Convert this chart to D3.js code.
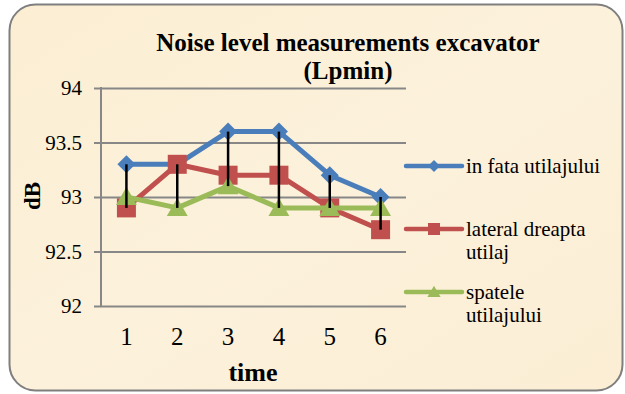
<!DOCTYPE html>
<html>
<head>
<meta charset="utf-8">
<script src="https://cdn.jsdelivr.net/npm/d3@7"></script>
<style>
  body { margin: 0; background: #fff; }
  svg text { font-family: "Liberation Serif", "Times New Roman", serif; fill: #000; }
</style>
</head>
<body>
<div id="chart"></div>
<script>
const categories = ['1', '2', '3', '4', '5', '6'];
const inFata = [93.3, 93.3, 93.6, 93.6, 93.2, 93.0];
const lateralDreapta = [92.9, 93.3, 93.2, 93.2, 92.9, 92.7];
const spatele = [93.0, 92.9, 93.1, 92.9, 92.9, 92.9];
const yTicks = [92, 92.5, 93, 93.5, 94];

const series = [
    { name: ['in fata utilajului'], values: inFata, color: '#4a7ebb', marker: 'diamond' },
    { name: ['lateral dreapta', 'utilaj'], values: lateralDreapta, color: '#c0504d', marker: 'square' },
    { name: ['spatele', 'utilajului'], values: spatele, color: '#9bbb59', marker: 'triangle' }
];

const width = 625, height = 394;
const plot = { left: 101, right: 406, top: 88, bottom: 306 };

const svg = d3.select('#chart').append('svg')
    .attr('width', width)
    .attr('height', height);

// background panel
const defs = svg.append('defs');
const grad = defs.append('linearGradient')
    .attr('id', 'bg').attr('x1', 0).attr('y1', 0).attr('x2', 1).attr('y2', 1);
grad.append('stop').attr('offset', 0).attr('stop-color', '#fbeed3');
grad.append('stop').attr('offset', 0.5).attr('stop-color', '#fcf1db');
grad.append('stop').attr('offset', 1).attr('stop-color', '#fbeed5');

svg.append('rect')
    .attr('x', 9.5).attr('y', 4.5)
    .attr('width', 613).attr('height', 386)
    .attr('rx', 26)
    .attr('fill', 'url(#bg)')
    .attr('stroke', '#7f7f7f')
    .attr('stroke-width', 2);

const x = d3.scaleBand()
    .domain(categories)
    .range([plot.left, plot.right]);
const cx = d => x(d) + x.bandwidth() / 2;

const y = d3.scaleLinear()
    .domain([92, 94])
    .range([plot.bottom, plot.top]);

// gridlines + y ticks
const yAxis = d3.axisLeft(y)
    .tickValues(yTicks)
    .tickSize(-(plot.right - plot.left))
    .tickFormat(d => d3.format('')(d));

const yg = svg.append('g')
    .attr('transform', `translate(${plot.left},0)`)
    .call(yAxis);
yg.select('.domain').remove();
yg.selectAll('.tick line')
    .attr('x1', -7)
    .attr('stroke', '#878787')
    .attr('stroke-width', 2);
yg.selectAll('.tick text')
    .attr('x', -19)
    .attr('dy', '0.32em')
    .style('font-size', '21px')
    .style('font-family', '"Liberation Serif", serif');

// vertical axis line
svg.append('line')
    .attr('x1', plot.left).attr('x2', plot.left)
    .attr('y1', plot.top - 1).attr('y2', plot.bottom + 1)
    .attr('stroke', '#878787')
    .attr('stroke-width', 2);

// x labels
svg.append('g')
    .selectAll('text')
    .data(categories)
    .join('text')
    .attr('x', d => cx(d))
    .attr('y', 345)
    .attr('text-anchor', 'middle')
    .style('font-size', '25px')
    .text(d => d);

// series
const line = d3.line()
    .x((d, i) => cx(categories[i]))
    .y(d => y(d));

function drawMarker(g, type, color, size) {
    if (type === 'diamond') {
        g.append('path')
            .attr('d', `M0,${-size}L${size},0L0,${size}L${-size},0Z`)
            .attr('fill', color);
    } else if (type === 'square') {
        g.append('rect')
            .attr('x', -size).attr('y', -size)
            .attr('width', size * 2).attr('height', size * 2)
            .attr('fill', color);
    } else {
        g.append('path')
            .attr('d', `M0,${-size * 1.05}L${size * 1.1},${size * 0.85}L${-size * 1.1},${size * 0.85}Z`)
            .attr('fill', color);
    }
}

series.forEach(s => {
    svg.append('path')
        .datum(s.values)
        .attr('fill', 'none')
        .attr('stroke', s.color)
        .attr('stroke-width', 5)
        .attr('stroke-linejoin', 'round')
        .attr('d', line);

    s.values.forEach((v, i) => {
        const g = svg.append('g')
            .attr('transform', `translate(${cx(categories[i])},${y(v)})`);
        const size = s.marker === 'diamond' ? 9 : 9.5;
        drawMarker(g, s.marker, s.color, size);
    });
});

// high-low lines
svg.append('g')
    .selectAll('line')
    .data(categories)
    .join('line')
    .attr('x1', d => cx(d)).attr('x2', d => cx(d))
    .attr('y1', (d, i) => y(d3.max(series, s => s.values[i])))
    .attr('y2', (d, i) => y(d3.min(series, s => s.values[i])))
    .attr('stroke', '#000')
    .attr('stroke-width', 2.5);

// legend
const legendY = [166, 229, 292];
series.forEach((s, i) => {
    const g = svg.append('g')
        .attr('transform', `translate(406,${legendY[i]})`);
    g.append('line')
        .attr('x1', 0).attr('x2', 56)
        .attr('stroke', s.color)
        .attr('stroke-width', 4.5)
        .attr('stroke-linecap', 'round');
    const m = g.append('g').attr('transform', 'translate(28,0)');
    drawMarker(m, s.marker, s.color, 6);
    s.name.forEach((t, k) => {
        g.append('text')
            .attr('x', 60)
            .attr('y', 7 + k * 23)
            .style('font-size', '21px')
            .text(t);
    });
});

// title
const title = svg.append('text')
    .attr('text-anchor', 'middle')
    .style('font-size', '25px')
    .style('font-weight', 'bold');
title.append('tspan').attr('x', 348).attr('y', 51).text('Noise level measurements excavator');
title.append('tspan').attr('x', 348).attr('y', 79).text('(Lpmin)');

// axis titles
svg.append('text')
    .attr('transform', 'translate(40,196) rotate(-90)')
    .attr('text-anchor', 'middle')
    .style('font-size', '23px')
    .style('font-weight', 'bold')
    .text('dB');

svg.append('text')
    .attr('x', 253)
    .attr('y', 381)
    .attr('text-anchor', 'middle')
    .style('font-size', '26px')
    .style('font-weight', 'bold')
    .text('time');
</script>
</body>
</html>
